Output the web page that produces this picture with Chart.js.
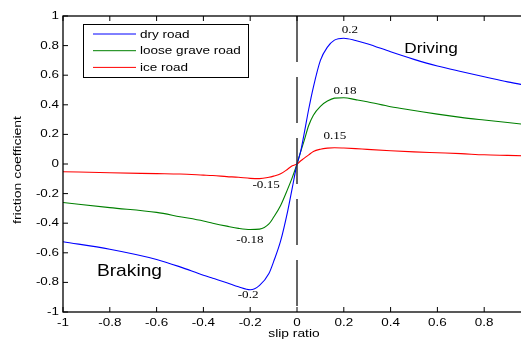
<!DOCTYPE html>
<html>
<head>
<meta charset="utf-8">
<title>friction coefficient vs slip ratio</title>
<script src="https://cdn.jsdelivr.net/npm/chart.js@4.4.1/dist/chart.umd.min.js"></script>
<style>
    html, body { margin: 0; padding: 0; background: #fff; overflow: hidden; }
    #wrap { width: 540px; height: 340px; }
</style>
</head>
<body>
<div id="wrap"><canvas id="frictionChart"></canvas></div>
<script>
// slip ratio samples (x) and friction coefficient for each road (y)
const slipRatio = [-1, -0.8, -0.6, -0.5, -0.4, -0.36, -0.3, -0.25, -0.2, -0.16, -0.12, -0.1, -0.07, -0.04, -0.02,
    0, 0.015, 0.03, 0.05, 0.07, 0.1, 0.13, 0.16, 0.2, 0.25, 0.3, 0.4, 0.5, 0.6, 0.7, 0.8, 0.9, 1];

const dryRoad = [-0.525, -0.576, -0.645, -0.695, -0.752, -0.772, -0.802, -0.83, -0.85, -0.82, -0.74, -0.66, -0.52, -0.32, -0.16,
    0, 0.08, 0.2, 0.37, 0.52, 0.7, 0.79, 0.837, 0.85, 0.835, 0.813, 0.758, 0.707, 0.662, 0.625, 0.59, 0.555, 0.525];

const looseGravelRoad = [-0.26, -0.295, -0.327, -0.356, -0.385, -0.4, -0.42, -0.435, -0.443, -0.44, -0.405, -0.36, -0.28, -0.17, -0.09,
    0, 0.08, 0.155, 0.26, 0.33, 0.39, 0.425, 0.445, 0.448, 0.435, 0.421, 0.387, 0.362, 0.337, 0.315, 0.297, 0.28, 0.262];

const iceRoad = [-0.052, -0.059, -0.065, -0.068, -0.075, -0.078, -0.085, -0.09, -0.097, -0.099, -0.09, -0.082, -0.066, -0.035, -0.012,
    0, 0.02, 0.038, 0.062, 0.085, 0.1, 0.107, 0.11, 0.108, 0.104, 0.099, 0.09, 0.082, 0.076, 0.07, 0.062, 0.058, 0.054];

const seriesLabels = ["dry road", "loose grave road", "ice road"];
const seriesColors = ["#0000ff", "#008000", "#ff0000"];

const xTicks = [-1, -0.8, -0.6, -0.4, -0.2, 0, 0.2, 0.4, 0.6, 0.8, 1];
const xTickLabels = ["-1", "-0.8", "-0.6", "-0.4", "-0.2", "0", "0.2", "0.4", "0.6", "0.8", "1"];
const yTicks = [-1, -0.8, -0.6, -0.4, -0.2, 0, 0.2, 0.4, 0.6, 0.8, 1];
const yTickLabels = ["-1", "-0.8", "-0.6", "-0.4", "-0.2", "0", "0.2", "0.4", "0.6", "0.8", "1"];

// peak slip ratio notes
const peakNotes = ["0.2", "0.18", "0.15", "-0.15", "-0.18", "-0.2"];

function toPoints(ys) {
    return slipRatio.map((x, i) => ({ x: x, y: ys[i] }));
}

// draw text squeezed/stretched horizontally, like the original figure's wide font
function drawText(ctx, txt, x, y, font, sx, align, angle) {
    ctx.save();
    ctx.font = font;
    ctx.fillStyle = "#000";
    ctx.textAlign = align || "center";
    ctx.textBaseline = "middle";
    ctx.translate(x, y);
    if (angle) ctx.rotate(angle);
    ctx.scale(sx, 1);
    ctx.fillText(txt, 0, 0);
    ctx.restore();
}

const figurePlugin = {
    id: "figure",
    afterDatasetsDraw(chart) {
        const ctx = chart.ctx;
        const area = chart.chartArea;
        const xs = chart.scales.x;
        const ys = chart.scales.y;

        // dashed line at zero slip
        const x0 = xs.getPixelForValue(0);
        ctx.save();
        ctx.strokeStyle = "#333";
        ctx.lineWidth = 1.5;
        ctx.setLineDash([46, 15]);
        ctx.beginPath();
        ctx.moveTo(x0, area.top);
        ctx.lineTo(x0, area.bottom);
        ctx.stroke();
        ctx.restore();

        // axes box + inward ticks
        ctx.save();
        ctx.strokeStyle = "#000";
        ctx.lineWidth = 1.3;
        ctx.strokeRect(area.left, area.top, area.right - area.left, area.bottom - area.top);
        ctx.lineWidth = 1;
        ctx.beginPath();
        xTicks.forEach(v => {
            const px = xs.getPixelForValue(v);
            ctx.moveTo(px, area.bottom); ctx.lineTo(px, area.bottom - 5);
            ctx.moveTo(px, area.top); ctx.lineTo(px, area.top + 5);
        });
        yTicks.forEach(v => {
            const py = ys.getPixelForValue(v);
            ctx.moveTo(area.left, py); ctx.lineTo(area.left + 5, py);
            ctx.moveTo(area.right, py); ctx.lineTo(area.right - 5, py);
        });
        ctx.stroke();
        ctx.restore();

        // tick labels
        const tickFont = "11px 'Liberation Sans', Arial, sans-serif";
        xTicks.forEach((v, i) => {
            drawText(ctx, xTickLabels[i], xs.getPixelForValue(v), area.bottom + 11, tickFont, 1.22, "center");
        });
        yTicks.forEach((v, i) => {
            drawText(ctx, yTickLabels[i], area.left - 4, ys.getPixelForValue(v), tickFont, 1.22, "right");
        });

        // axis titles
        const titleFont = "10px 'Liberation Sans', Arial, sans-serif";
        drawText(ctx, "slip ratio", xs.getPixelForValue(0) - 3, 334, titleFont, 1.38, "center");
        drawText(ctx, "friction coefficient", 18, (area.top + area.bottom) / 2 + 6, titleFont, 1.4, "center", -Math.PI / 2);

        // peak notes, placed in data space
        const noteFont = "10.5px 'Liberation Serif', 'Times New Roman', serif";
        const notePos = [[0.226, 0.905], [0.205, 0.493], [0.162, 0.189], [-0.132, -0.142], [-0.201, -0.514], [-0.209, -0.885]];
        peakNotes.forEach((t, i) => {
            drawText(ctx, t, xs.getPixelForValue(notePos[i][0]), ys.getPixelForValue(notePos[i][1]), noteFont, 1.25, "center");
        });

        // region labels
        drawText(ctx, "Driving", xs.getPixelForValue(0.573), ys.getPixelForValue(0.777), "15px 'Liberation Sans', Arial, sans-serif", 1.15, "center");
        drawText(ctx, "Braking", xs.getPixelForValue(-0.716), ys.getPixelForValue(-0.723), "17px 'Liberation Sans', Arial, sans-serif", 1.13, "center");

        // legend box
        const lx = area.left + 20, ly = area.top + 8, lw = 165, lh = 53;
        ctx.save();
        ctx.fillStyle = "#fff";
        ctx.fillRect(lx, ly, lw, lh);
        ctx.strokeStyle = "#000";
        ctx.lineWidth = 1;
        ctx.strokeRect(lx + 0.5, ly + 0.5, lw, lh);
        seriesLabels.forEach((lab, i) => {
            const ry = ly + 10 + i * 16.7;
            ctx.strokeStyle = seriesColors[i];
            ctx.beginPath();
            ctx.moveTo(lx + 10, ry);
            ctx.lineTo(lx + 53, ry);
            ctx.stroke();
            drawText(ctx, lab, lx + 57, ry + 0.5, "11px 'Liberation Sans', Arial, sans-serif", 1.23, "left");
        });
        ctx.restore();
    }
};

const ctx = document.getElementById("frictionChart").getContext("2d");

const frictionChart = new Chart(ctx, {
    type: "line",
    data: {
        datasets: [dryRoad, looseGravelRoad, iceRoad].map((ys, i) => ({
            label: seriesLabels[i],
            data: toPoints(ys),
            borderColor: seriesColors[i],
            borderWidth: 1.1,
            pointRadius: 0,
            fill: false,
            cubicInterpolationMode: "monotone"
        }))
    },
    options: {
        responsive: true,
        maintainAspectRatio: false,
        animation: false,
        layout: { padding: { left: 63, top: 16, right: 9, bottom: 28 } },
        plugins: {
            legend: { display: false },
            tooltip: { enabled: false }
        },
        scales: {
            x: { type: "linear", min: -1, max: 1, display: false },
            y: { type: "linear", min: -1, max: 1, display: false }
        }
    },
    plugins: [figurePlugin]
});
</script>
</body>
</html>
